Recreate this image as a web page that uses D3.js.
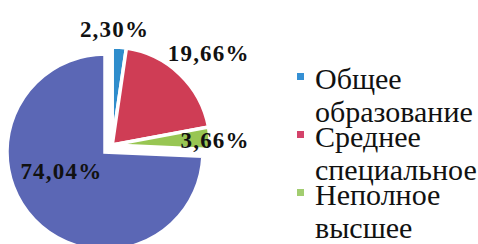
<!DOCTYPE html>
<html>
<head>
<meta charset="utf-8">
<script src="https://cdn.jsdelivr.net/npm/d3@7"></script>
<style>
  html, body { margin: 0; padding: 0; background: #fff; }
  svg { display: block; }
</style>
</head>
<body>
<div id="root"></div>
<script>
// chart data
var categories = ["Общее образование", "Среднее специальное", "Неполное высшее", "Высшее"];
var legendLines = [["Общее", "образование"], ["Среднее", "специальное"], ["Неполное", "высшее"]];
var shares = [2.30, 19.66, 3.66, 74.04];
var shareLabels = ["2,30%", "19,66%", "3,66%", "74,04%"];

var width = 478, height = 244;
var serif = "'Liberation Serif'";
var colors = ["#2f8dcc", "#cf3d55", "#98c653", "#5b67b5"];
var legendColors = ["#3590d4", "#d4436a", "#a2cd70"];

var svg = d3.select("#root")
  .append("svg")
  .attr("width", width)
  .attr("height", height);

svg.append("rect")
  .attr("width", width)
  .attr("height", height)
  .attr("fill", "#fff");

// pie centre and radius
var cx = 105, cy = 152, radius = 98;
var exploded = [true, true, true, false];
var explodeDist = 10;

var pie = d3.pie().sort(null).value(function (d) { return d; });
var arcs = pie(shares);

var arc = d3.arc().innerRadius(0).outerRadius(radius);

// the small slices are pulled out together along their common bisector
var grp = arcs.filter(function (d, i) { return exploded[i]; });
var midGroup = (grp[0].startAngle + grp[grp.length - 1].endAngle) / 2;
var offX = Math.sin(midGroup) * explodeDist,
  offY = -Math.cos(midGroup) * explodeDist;

function centre(i) {
  return exploded[i] ? [cx + offX, cy + offY] : [cx, cy];
}

var g = svg.append("g");

g.selectAll("path.slice")
  .data(arcs)
  .enter()
  .append("path")
  .attr("class", "slice")
  .attr("transform", function (d, i) { var c = centre(i); return "translate(" + c[0] + "," + c[1] + ")"; })
  .attr("d", arc)
  .attr("fill", function (d, i) { return colors[i]; })
  .attr("stroke", "#fff")
  .attr("stroke-width", 3.5);

// data labels: distance from the slice centre and angular shift from the slice middle (degrees)
var labelPos = [
  { r: 115, shift: -3 },
  { r: 133, shift: 2.7 },
  { r: 103, shift: 1.7 },
  { r: 48, shift: 19 }
];

function labelAngle(d, i) {
  return (d.startAngle + d.endAngle) / 2 + labelPos[i].shift * Math.PI / 180;
}

svg.selectAll("text.lbl")
  .data(arcs)
  .enter()
  .append("text")
  .attr("class", "lbl")
  .attr("x", function (d, i) { return centre(i)[0] + Math.sin(labelAngle(d, i)) * labelPos[i].r; })
  .attr("y", function (d, i) { return centre(i)[1] - Math.cos(labelAngle(d, i)) * labelPos[i].r; })
  .attr("dy", "0.32em")
  .attr("text-anchor", "middle")
  .style("font-family", serif)
  .style("font-weight", "bold")
  .style("font-size", "23px")
  .style("letter-spacing", "1.2px")
  .style("fill", "#111")
  .text(function (d, i) { return shareLabels[i]; });

// legend (only the first three entries fit in the picture)
var legendY = [89, 147, 205];
var lineH = 33;

var leg = svg.selectAll("g.leg")
  .data(legendLines)
  .enter()
  .append("g")
  .attr("class", "leg")
  .attr("transform", function (d, i) { return "translate(297," + legendY[i] + ")"; });

leg.append("rect")
  .attr("x", 0)
  .attr("y", -16)
  .attr("width", 7)
  .attr("height", 7)
  .attr("fill", function (d, i) { return legendColors[i]; });

leg.selectAll("text")
  .data(function (d) { return d; })
  .enter()
  .append("text")
  .attr("x", 18)
  .attr("y", function (d, j) { return j * lineH; })
  .style("font-family", serif)
  .style("font-size", "30px")
  .style("fill", "#111")
  .text(function (d) { return d; });
</script>
</body>
</html>
